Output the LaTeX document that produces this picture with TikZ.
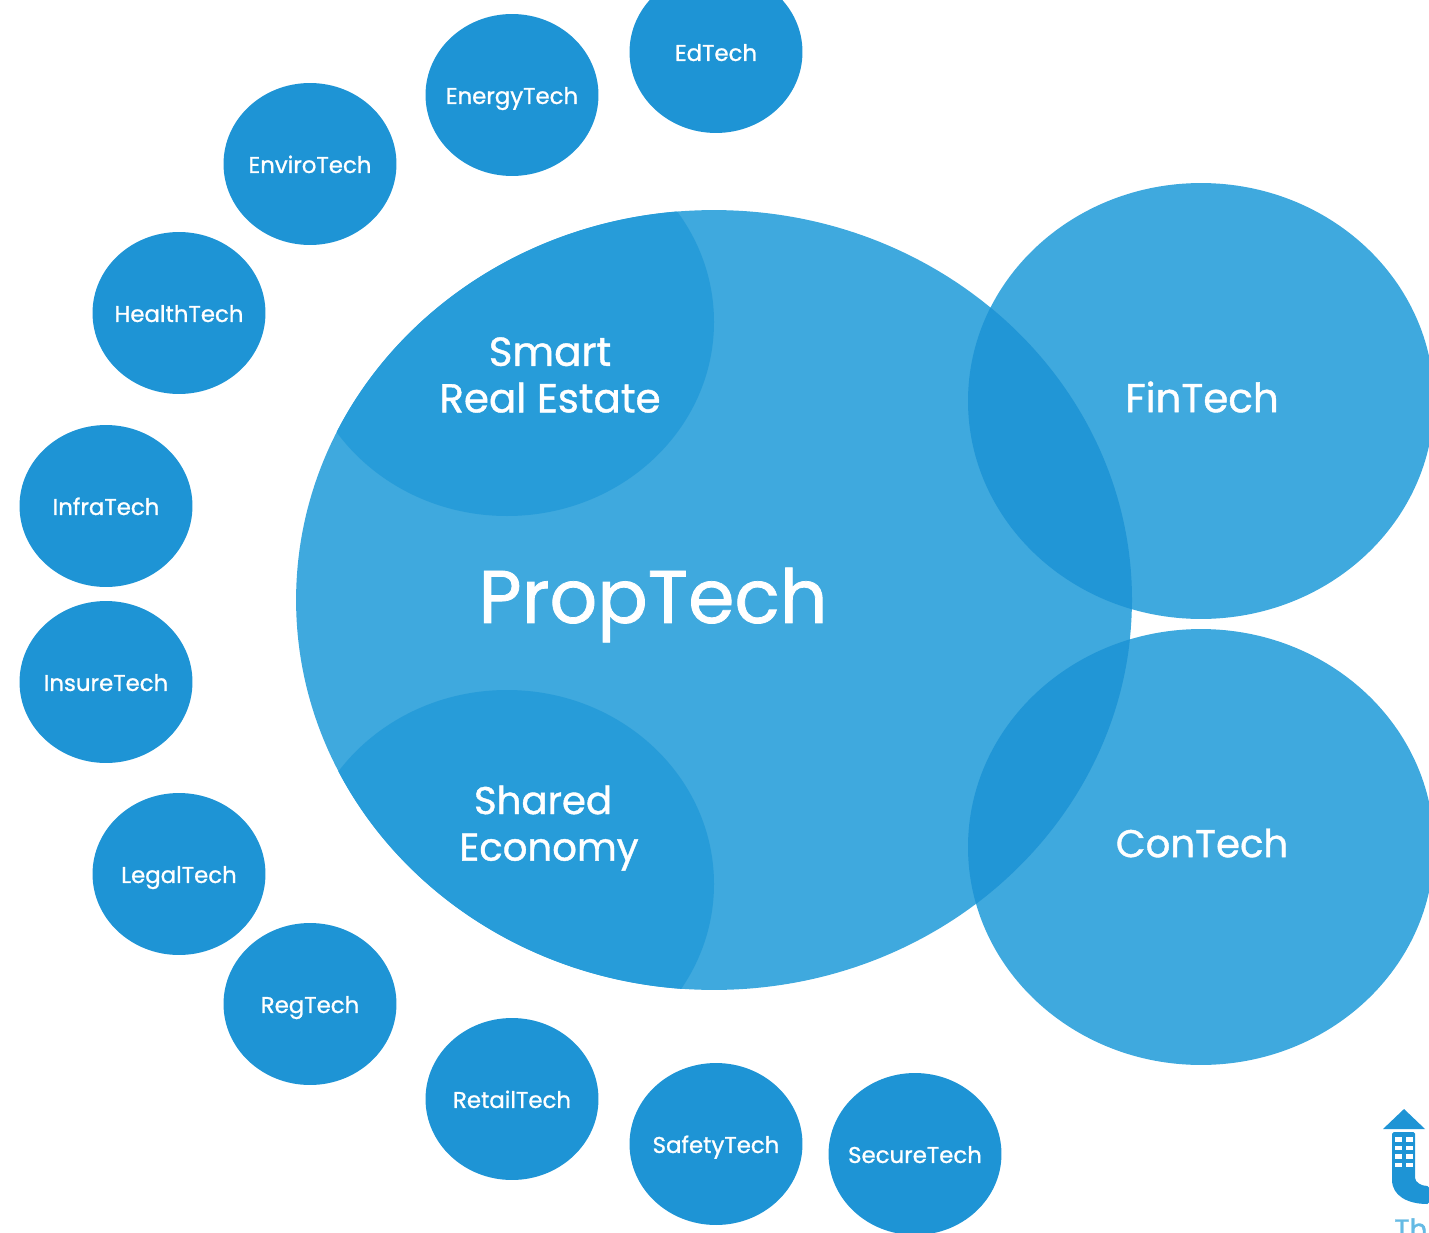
\documentclass[tikz,border=0pt]{standalone}
\usepackage{fontspec}
\setmainfont[FakeBold=1.0]{Poppins}
\usepackage{xcolor}
\usetikzlibrary{shapes.geometric, positioning}

\definecolor{mainblue}{HTML}{3FA9DE}
\definecolor{lapblue}{HTML}{2196D6}
\definecolor{innerblue}{HTML}{279CD9}
\definecolor{techblue}{HTML}{1E94D5}

\begin{document}
\begin{tikzpicture}[
    x=0.02cm, y=-0.02cm,
    bigcirc/.style={ellipse, fill=mainblue, inner sep=0pt, outer sep=0pt, minimum width=9.32cm, minimum height=8.72cm},
    corecirc/.style={ellipse, fill=mainblue, inner sep=0pt, outer sep=0pt, minimum width=16.72cm, minimum height=15.6cm},
    techcirc/.style={ellipse, fill=techblue, inner sep=0pt, outer sep=0pt, minimum width=3.46cm, minimum height=3.24cm, label={[text=white, text height=10.2pt, text depth=0pt, font=\fontsize{13}{15}\selectfont]center:#1}},
    bigtext/.style={text=white, align=center, font=\fontsize{23}{26.5}\selectfont},
    windowbox/.style={fill=white, minimum width=0.14cm, minimum height=0.09cm, inner sep=0pt}
]
\clip (0,0) rectangle (1429,1233);

% large circles
\node[corecirc] (proptech) at (714,600) {};
\node[bigcirc] (fintech) at (1201,401) {};
\node[bigcirc] (contech) at (1201,847) {};

% overlaps
\begin{scope}
\clip (714,600) ellipse [x radius=418, y radius=390];
\fill[innerblue] (507,322) ellipse [x radius=207, y radius=194];
\fill[innerblue] (507,884) ellipse [x radius=207, y radius=194];
\fill[lapblue] (1201,401) ellipse [x radius=233, y radius=218];
\fill[lapblue] (1201,847) ellipse [x radius=233, y radius=218];
\end{scope}

% labels
\node[bigtext, font=\fontsize{42.5}{48}\selectfont] (proptechtext) at (653,605) {PropTech};
\node[bigtext] (smarttext) at (550,375) {Smart\\Real Estate};
\node[bigtext, font=\fontsize{22}{26.5}\selectfont] (sharedtext) at (549,828) {Shared\hspace*{6.8pt}\\Economy};
\node[bigtext] (fintechtext) at (1202,397) {FinTech};
\node[bigtext, font=\fontsize{22}{26.5}\selectfont] (contechtext) at (1202,843) {ConTech};

% small circles
\node[techcirc=EdTech] (edtech) at (716,52) {};
\node[techcirc=EnergyTech] (energytech) at (512,95) {};
\node[techcirc=EnviroTech] (envirotech) at (310,164) {};
\node[techcirc=HealthTech] (healthtech) at (179,313) {};
\node[techcirc=InfraTech] (infratech) at (106,506) {};
\node[techcirc=InsureTech] (insuretech) at (106,682) {};
\node[techcirc=LegalTech] (legaltech) at (179,874) {};
\node[techcirc=RegTech] (regtech) at (310,1004) {};
\node[techcirc=RetailTech] (retailtech) at (512,1099) {};
\node[techcirc=SafetyTech] (safetytech) at (716,1144) {};
\node[techcirc=SecureTech] (securetech) at (915,1154) {};

% logo in the corner
\fill[techblue] (1383,1129) -- (1404,1109) -- (1425,1129) -- cycle;
\fill[techblue, rounded corners=1pt] (1392,1132) -- (1415,1132) -- (1415,1176)
    .. controls (1415,1182) and (1421,1186) .. (1429,1186) -- (1429,1204)
    .. controls (1408,1204) and (1392,1196) .. (1392,1178) -- cycle;
\node[windowbox] (win1) at (1398.5,1139.5) {};
\node[windowbox] (win2) at (1409.5,1139.5) {};
\node[windowbox] (win3) at (1398.5,1148) {};
\node[windowbox] (win4) at (1409.5,1148) {};
\node[windowbox] (win5) at (1398.5,1156.5) {};
\node[windowbox] (win6) at (1409.5,1156.5) {};
\node[windowbox] (win7) at (1398.5,1165) {};
\node[windowbox] (win8) at (1409.5,1165) {};
\node[anchor=north west, inner sep=0pt, text=mainblue!80, font=\fontsize{16}{18}\selectfont] (logotext) at (1394,1218) {Th};

\end{tikzpicture}
\end{document}
